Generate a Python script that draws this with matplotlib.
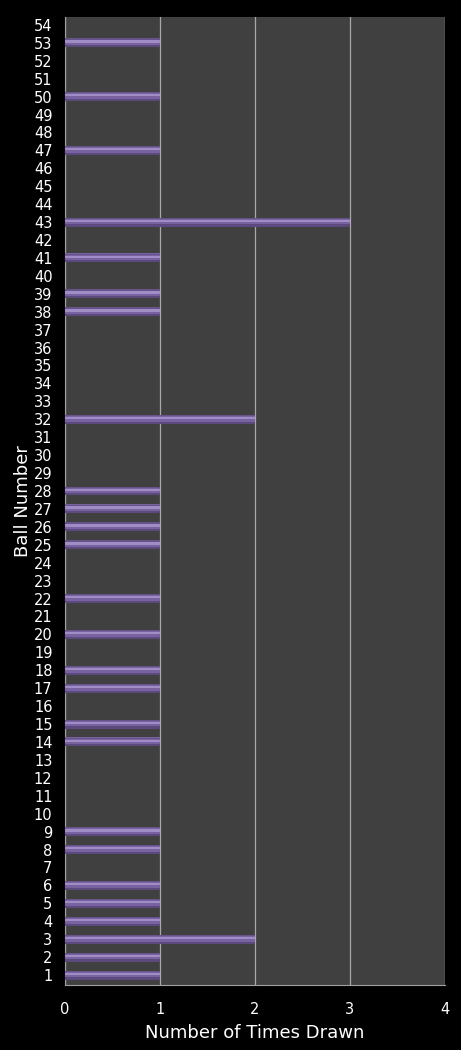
import numpy as np
import matplotlib.pyplot as plt

balls = np.arange(1, 55)
drawn_balls = [1, 2, 3, 4, 5, 6, 8, 9, 14, 15, 17, 18, 20, 22, 25, 26, 27, 28,
               32, 38, 39, 41, 43, 47, 50, 53]
drawn_counts = [1, 1, 2, 1, 1, 1, 1, 1, 1, 1, 1, 1, 1, 1, 1, 1, 1, 1,
                2, 1, 1, 1, 3, 1, 1, 1]

counts = np.zeros(len(balls))
for b, c in zip(drawn_balls, drawn_counts):
    counts[b - 1] = c

fig = plt.figure(figsize=(4.61, 10.5), dpi=100, facecolor='black')
ax = fig.add_axes([0.141, 0.062, 0.824, 0.922])
ax.set_facecolor('#404040')

# bar body, darker lower edge and lighter top highlight
ax.barh(balls, counts, height=0.5, color='#7862a0', zorder=3)
ax.barh(balls - 0.19, counts, height=0.12, color='#5c4a7e', zorder=4)
ax.barh(balls + 0.07, counts, height=0.13, color='#a08dc6', zorder=4)
ax.barh(balls + 0.21, counts, height=0.07, color='#65538a', zorder=4)

ax.set_xlim(0, 4)
ax.set_ylim(0.45, 54.45)
ax.set_xticks([0, 1, 2, 3, 4])
ax.set_yticks(balls)
ax.grid(axis='x', color='#a8a8a8', linewidth=0.9, zorder=1)
ax.set_axisbelow(True)

for s in ['top', 'right']:
    ax.spines[s].set_visible(False)
for s in ['left', 'bottom']:
    ax.spines[s].set_color('#a0a0a0')

ax.tick_params(colors='white', labelsize=10.5, length=0)
ax.tick_params(axis='x', pad=12)
ax.tick_params(axis='y', pad=9)
ax.set_xlabel('Number of Times Drawn', color='white', fontsize=13, labelpad=5)
ax.set_ylabel('Ball Number', color='white', fontsize=13, labelpad=1)

fig.savefig('out.png', dpi=100, facecolor='black')
